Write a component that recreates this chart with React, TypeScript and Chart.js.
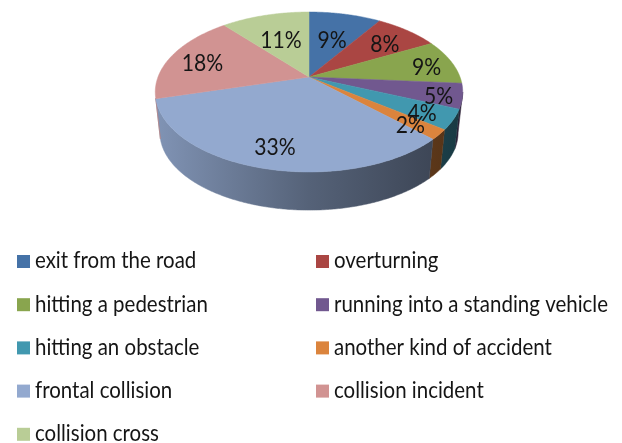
import React, { useEffect, useRef } from "react";
import { Chart, registerables } from "chart.js";

Chart.register(...registerables);

const categories = [
  "exit from the road",
  "overturning",
  "hitting a pedestrian",
  "running into a standing vehicle",
  "hitting an obstacle",
  "another kind of accident",
  "frontal collision",
  "collision incident",
  "collision cross",
];
const shares = [9, 8, 9, 5, 4, 2, 33, 18, 11];
const sliceColors = ["#4572A7", "#AA4643", "#89A54E", "#71588F", "#4198AF", "#DB843D", "#93A9CF", "#D19392", "#B9CD96"];
const labelRadii = [0.6, 0.75, 0.82, 0.85, 0.8, 0.8, 0.77, 0.77, 0.6];

const TILT = 0.1875; // perspective strength
const SQUASH = 0.511; // vertical squash of the disc
const DEPTH = 41;
const BOTTOM_SCALE = 0.97;
const FONT = "Lato, Carlito, sans-serif";
const WALL_LEFT = (255 * Math.PI) / 180;

function project(el: any, t: number, theta: number, dy = 0, scale = 1) {
  const X = t * Math.sin(theta);
  const Y = -t * Math.cos(theta);
  const w = 1 - TILT * Y;
  const R = el.outerRadius * scale;
  return { x: el.x + (R * X) / w, y: el.y + dy + (R * SQUASH * Y) / w };
}

function shade(hex: string, f: number) {
  const n = parseInt(hex.slice(1), 16);
  return `rgb(${((n >> 16) & 255) * f},${((n >> 8) & 255) * f},${(n & 255) * f})`;
}

// Text in the narrow, tall proportions of the reference's face.
function narrowText(ctx: any, text: string, x: number, y: number, sx: number) {
  ctx.save();
  ctx.translate(x, y);
  ctx.scale(sx, 1);
  ctx.fillText(text, 0, 0);
  ctx.restore();
}

const pie3d = {
  id: "pie3d",
  beforeDatasetDraw() {
    return false;
  },
  afterDatasetsDraw(chart: any) {
    const { ctx } = chart;
    const arcs = chart.getDatasetMeta(0).data;
    const colors = chart.data.datasets[0].backgroundColor;
    const vals = chart.data.datasets[0].data;
    const first = arcs[0];
    const rightEdge = Math.PI - Math.acos(TILT);
    ctx.save();
    // side wall
    arcs.forEach((el: any, i: number) => {
      const a = Math.max(el.startAngle + Math.PI / 2, rightEdge);
      const b = Math.min(el.endAngle + Math.PI / 2, WALL_LEFT);
      if (b <= a) return;
      const n = Math.ceil((b - a) / 0.01);
      const g = ctx.createLinearGradient(first.x - first.outerRadius, 0, first.x + first.outerRadius, 0);
      g.addColorStop(0, shade(colors[i], 0.87));
      g.addColorStop(0.5, shade(colors[i], 0.58));
      g.addColorStop(1, shade(colors[i], 0.38));
      ctx.beginPath();
      for (let k = 0; k <= n; k++) {
        const p = project(el, 1, a + ((b - a) * k) / n);
        k ? ctx.lineTo(p.x, p.y) : ctx.moveTo(p.x, p.y);
      }
      for (let k = n; k >= 0; k--) {
        const p = project(el, 1, a + ((b - a) * k) / n, DEPTH, BOTTOM_SCALE);
        ctx.lineTo(p.x, p.y);
      }
      ctx.closePath();
      ctx.fillStyle = g;
      ctx.strokeStyle = g;
      ctx.lineWidth = 0.5;
      ctx.fill();
      ctx.stroke();
    });
    // top face
    arcs.forEach((el: any, i: number) => {
      const a = el.startAngle + Math.PI / 2;
      const b = el.endAngle + Math.PI / 2;
      const n = Math.ceil((b - a) / 0.01);
      ctx.beginPath();
      ctx.moveTo(el.x, el.y);
      for (let k = 0; k <= n; k++) {
        const p = project(el, 1, a + ((b - a) * k) / n);
        ctx.lineTo(p.x, p.y);
      }
      ctx.closePath();
      ctx.fillStyle = colors[i];
      ctx.strokeStyle = colors[i];
      ctx.lineWidth = 0.5;
      ctx.fill();
      ctx.stroke();
    });
    // value labels
    ctx.fillStyle = "#151515";
    ctx.font = `24px ${FONT}`;
    ctx.textAlign = "center";
    ctx.textBaseline = "middle";
    arcs.forEach((el: any, i: number) => {
      const mid = (el.startAngle + el.endAngle) / 2 + Math.PI / 2;
      const p = project(el, labelRadii[i], mid);
      narrowText(ctx, `${vals[i]}%`, p.x, p.y + 3, 0.88);
    });
    ctx.restore();
  },
  afterDraw(chart: any) {
    const { ctx } = chart;
    const colors = chart.data.datasets[0].backgroundColor;
    ctx.save();
    ctx.font = `23px ${FONT}`;
    ctx.textAlign = "left";
    ctx.textBaseline = "middle";
    chart.data.labels.forEach((label: string, i: number) => {
      const col = i % 2;
      const row = Math.floor(i / 2);
      const x = col ? 316 : 17;
      const y = 261 + row * 43.2;
      ctx.fillStyle = colors[i];
      ctx.fillRect(x, y - 6, 13, 13);
      ctx.fillStyle = "#151515";
      narrowText(ctx, label, x + 18, y, 0.89);
    });
    ctx.restore();
  },
};

export default function App() {
  const ref = useRef<HTMLCanvasElement>(null);
  useEffect(() => {
    const chart = new Chart(ref.current!, {
      type: "pie",
      data: {
        labels: categories,
        datasets: [{ data: shares, backgroundColor: sliceColors, borderWidth: 0 }],
      },
      options: {
        animation: false,
        responsive: false,
        radius: 151,
        layout: { padding: { top: 0, bottom: 289, left: 0, right: 4 } },
        plugins: { legend: { display: false }, tooltip: { enabled: false } },
      } as any,
      plugins: [pie3d],
    });
    return () => chart.destroy();
  }, []);
  return (
    <canvas
      ref={ref}
      width={622}
      height={443}
      style={{ position: "absolute", left: 0, top: 0, width: 622, height: 443 }}
    />
  );
}
